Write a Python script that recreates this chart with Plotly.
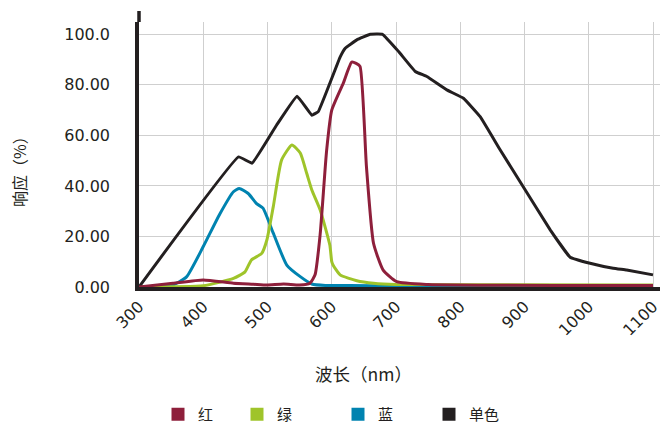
import plotly.graph_objects as go

# ---- data ----
black_x = [300, 455, 476, 514, 546, 569, 579, 613, 621, 639, 660, 679, 704, 730, 748, 779, 805, 831, 862, 898, 940, 971, 1002, 1038, 1059, 1100]
black_y = [0, 51.5, 49, 64, 75.5, 68, 69.4, 91, 94.5, 97.8, 100, 100, 93.2, 85.3, 83.3, 78, 74.7, 67.4, 54.3, 39.7, 22.6, 11.8, 9.4, 7.4, 6.7, 4.8]

blue_x = [300, 340, 353, 374, 400, 426, 447, 456, 470, 483, 493, 509, 530, 551, 569, 590, 628, 700, 1100]
blue_y = [0, 0.2, 0.8, 4, 16, 29, 37.7, 39, 37, 33, 31.2, 21.3, 8.7, 4.1, 1.2, 0.6, 0.6, 0.5, 0.5]

green_x = [300, 400, 447, 465, 475, 491, 499, 509, 522, 538, 551, 561, 569, 582, 597, 600, 602, 613, 639, 665, 700, 1100]
green_y = [0, 0.5, 3.4, 6, 10.7, 13.3, 18.6, 31.8, 50.3, 56.2, 53, 45, 38.4, 30.5, 16.6, 10, 8.7, 4.8, 2.5, 1.5, 1, 0.8]

red_x = [300, 353, 400, 447, 478, 499, 525, 550, 566, 574, 582, 592, 600, 618, 631, 638, 644, 654, 665, 680, 701, 750, 1100]
red_y = [0, 1.5, 2.8, 1.5, 1.1, 0.8, 1.2, 0.8, 1.5, 4.8, 21, 54, 70, 80.7, 89, 88.5, 87.3, 47.6, 17.3, 6.7, 2.1, 1, 0.6]

x_ticks = [300, 400, 500, 600, 700, 800, 900, 1000, 1100]
x_ticktext = ["300", "400", "500", "600", "700", "800", "900", "1000", "1100"]
y_ticks = [0, 20, 40, 60, 80, 100]
y_ticktext = ["0.00", "20.00", "40.00", "60.00", "80.00", "100.0"]

series_names = ["红", "绿", "蓝", "单色"]
colors = {"红": "#8E1F3B", "绿": "#9FC42A", "蓝": "#0083B0", "单色": "#231F20"}

TXT = "#231F20"
NUMFONT = "DejaVu Sans"
CJK = "Noto Sans CJK SC"

fig = go.Figure()

# curves (draw order: blue, green, black, red)
for name, xs, ys, sm in [("蓝", blue_x, blue_y, 0.5),
                         ("绿", green_x, green_y, 0.5),
                         ("单色", black_x, black_y, 0.25),
                         ("红", red_x, red_y, 0.5)]:
    fig.add_trace(go.Scatter(x=xs, y=ys, mode="lines", name=name, showlegend=False,
                             line=dict(color=colors[name], width=3, shape="spline", smoothing=sm),
                             hoverinfo="x+y+name"))

# legend entries (square swatches), one legend each for exact placement
OFF = 8  # browser page offset (body margin)
legend_x_px = [158, 237, 338, 429]
for i, name in enumerate(series_names):
    lg = "legend" if i == 0 else f"legend{i+1}"
    fig.add_trace(go.Scatter(x=[None], y=[None], mode="markers", name=name,
                             marker=dict(symbol="square", size=13, color=colors[name]),
                             legend=lg, showlegend=True))

W, H = 668 - OFF, 423 - OFF
ml, mr, mt, mb = 139 - OFF, 0, 22 - OFF, 136
pw, ph = W - ml - mr, H - mt - mb

def px2paperx(px):
    return (px - OFF - ml) / pw

def py2papery(py):
    return (H - mb - (py - OFF)) / ph

legend_layout = {}
for i, name in enumerate(series_names):
    key = "legend" if i == 0 else f"legend{i+1}"
    legend_layout[key] = dict(x=px2paperx(legend_x_px[i]), y=py2papery(414.5),
                              xanchor="left", yanchor="middle",
                              bgcolor="rgba(0,0,0,0)", borderwidth=0,
                              font=dict(family=CJK, size=15, color=TXT))

fig.update_layout(
    width=W, height=H,
    margin=dict(l=ml, r=mr, t=mt, b=mb, pad=0, autoexpand=False),
    paper_bgcolor="white", plot_bgcolor="white",
    xaxis=dict(range=[300, 300 + pw / 0.6425], tickmode="array", tickvals=x_ticks, ticktext=x_ticktext,
               tickangle=-45, showgrid=True, gridcolor="#CFCFCF", gridwidth=1, automargin=False,
               showline=True, linecolor=TXT, linewidth=4, zeroline=False, ticks="",
               tickfont=dict(family=NUMFONT, size=16, color=TXT)),
    yaxis=dict(range=[0, ph / 2.527], tickmode="array", tickvals=y_ticks, ticktext=y_ticktext,
               showgrid=True, gridcolor="#CFCFCF", gridwidth=1, automargin=False,
               showline=True, linecolor=TXT, linewidth=3.5, zeroline=False, ticks="",
               ticklabelstandoff=22,
               tickfont=dict(family=NUMFONT, size=16, color=TXT)),
    annotations=[
        dict(text="波长（nm）", xref="paper", yref="paper", x=px2paperx(363), y=py2papery(373),
             xanchor="center", yanchor="middle", showarrow=False,
             font=dict(family=CJK, size=17.5, color=TXT)),
        dict(text="响应（%）", xref="paper", yref="paper", x=px2paperx(19), y=py2papery(168),
             xanchor="center", yanchor="middle", showarrow=False, textangle=-90,
             font=dict(family=CJK, size=16, color=TXT)),
    ],
    shapes=[dict(type="line", xref="paper", yref="paper", x0=0, x1=0, y0=1, y1=1 + 11 / ph,
                 line=dict(color=TXT, width=3.5))],
    **legend_layout,
)

fig.write_html("out.html")
